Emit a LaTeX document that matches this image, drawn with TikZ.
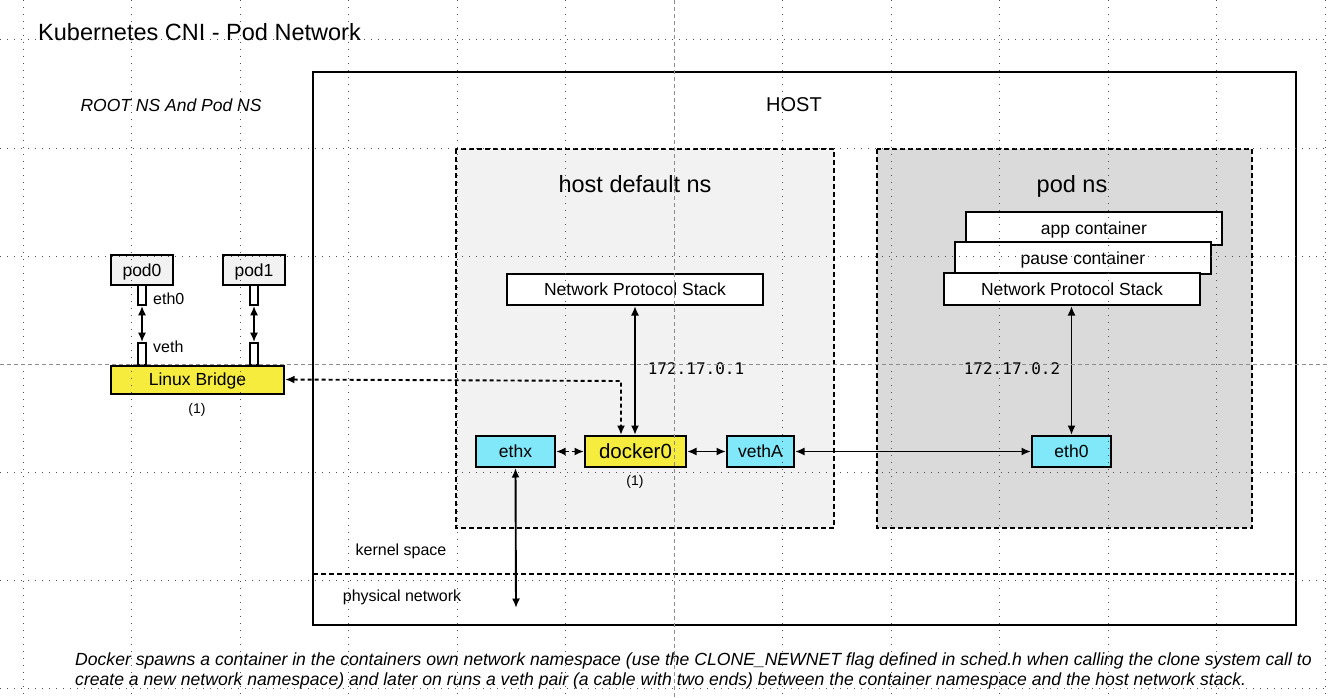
\documentclass[tikz,border=0pt]{standalone}
\usepackage{fontspec}
\setmainfont{Liberation Sans}
\newfontfamily\ipfont{DejaVu Sans Mono}
\usetikzlibrary{arrows.meta}
\definecolor{ybox}{RGB}{245,236,62}
\definecolor{cbox}{RGB}{128,232,248}
\definecolor{nsA}{RGB}{242,242,242}
\definecolor{nsB}{RGB}{218,218,218}
\definecolor{gridc}{RGB}{80,80,80}
\newcommand{\fs}[1]{\fontsize{#1}{#1}\selectfont}
\newcommand{\lnstrut}{\rule[-0.212em]{0pt}{1.117em}}
\tikzset{
  box/.style={draw=black, line width=2pt, rectangle, inner sep=0pt, font=\fs{17.5}, execute at begin node=\lnstrut},
  wbox/.style={box, fill=white},
  ybx/.style={box, fill=ybox},
  cbx/.style={box, fill=cbox},
  port/.style={draw=black, line width=1.6pt, fill=white, rectangle, inner sep=0pt, minimum width=8pt},
  nsbox/.style={draw=black, line width=1.8pt, dash pattern=on 5pt off 3pt},
  conn/.style={line width=1.9pt, {Latex[length=9.5pt,width=8pt]}-{Latex[length=9.5pt,width=8pt]}},
  dconn/.style={conn, dash pattern=on 4pt off 3pt},
  txt/.style={inner sep=0pt, font=\fs{17.5}, execute at begin node=\lnstrut},
  gridl/.style={gridc, line width=1pt, dash pattern=on 1pt off 6pt},
  guide/.style={black!45, line width=0.7pt, dash pattern=on 4pt off 3pt}
}
\begin{document}
\begin{tikzpicture}[x=1pt,y=-1pt]
\useasboundingbox (0,0) rectangle (1330,698);
\fill[white] (0,0) rectangle (1330,698);

% title and labels
\node[txt, anchor=west, font=\fs{23.5}] (title) at (38,32) {Kubernetes CNI - Pod Network};
\node[txt, font=\fs{17.5}\itshape] (rootns) at (171,105) {ROOT NS And Pod NS};

% host box
\draw[line width=2.2pt, fill=white] (313,72) rectangle (1296,625);
\node[txt, font=\fs{20}] (host) at (794,105) {HOST};

% namespaces
\draw[nsbox, fill=nsA] (456,149) rectangle (834,528);
\draw[nsbox, fill=nsB] (877,149) rectangle (1252,528);
\node[txt, font=\fs{23.5}] (hdns) at (635,184) {host default ns};
\node[txt, font=\fs{23.5}] (podns) at (1072,184) {pod ns};

% kernel / physical separator
\draw[line width=1.8pt, dash pattern=on 5pt off 3pt] (313,574) -- (1296,574);
\node[txt, font=\fs{16}] (kern) at (401,550) {kernel space};
\node[txt, font=\fs{16}] (phys) at (402,596) {physical network};

% host default ns contents
\node[wbox, minimum width=256pt, minimum height=31pt] (nps1) at (635,289.5) {Network Protocol Stack};
\node[cbx, minimum width=79pt, minimum height=31pt] (ethx) at (515.5,451.5) {ethx};
\node[ybx, minimum width=101pt, minimum height=31pt, font=\fs{20.5}] (docker0) at (635.5,451.5) {docker0};
\node[cbx, minimum width=67pt, minimum height=31pt] (vethA) at (760.5,451.5) {vethA};
\node[txt, font=\fs{14}] (one2) at (635,481) {(1)};
\node[txt, font=\ipfont\fs{16}] (ip1) at (696,369) {172.17.0.1};

% pod ns contents
\node[wbox, minimum width=256pt, minimum height=33pt] (app) at (1094,228.5) {};
\node[txt] (applbl) at (1094,228) {app container};
\node[wbox, minimum width=256pt, minimum height=32pt] (pause) at (1083,258) {};
\node[txt] (pauselbl) at (1083,258.5) {pause container};
\node[wbox, minimum width=256pt, minimum height=32pt] (nps2) at (1072,289) {Network Protocol Stack};
\node[cbx, minimum width=79pt, minimum height=31pt] (eth0) at (1071.5,451.5) {eth0};
\node[txt, font=\ipfont\fs{16}] (ip2) at (1012,369) {172.17.0.2};

% left: pods and bridge
\node[box, fill=nsA, minimum width=62pt, minimum height=30pt] (pod0) at (142,270) {pod0};
\node[box, fill=nsA, minimum width=62pt, minimum height=30pt] (pod1) at (254,270) {pod1};
\node[ybx, minimum width=173pt, minimum height=28pt] (bridge) at (197.5,379.5) {Linux Bridge};
\node[port, minimum height=20pt] (p0a) at (142,295) {};
\node[port, minimum height=22pt] (p0b) at (142,354) {};
\node[port, minimum height=20pt] (p1a) at (254,295) {};
\node[port, minimum height=22pt] (p1b) at (254,354) {};
\node[txt, anchor=west, font=\fs{16}] (eth0lbl) at (153,299) {eth0};
\node[txt, anchor=west, font=\fs{16}] (vethlbl) at (153,347) {veth};
\node[txt, font=\fs{14}] (one1) at (197,409) {(1)};

% connectors
\coordinate (bend) at (621,381);
\coordinate (phyend) at (516,608);
\draw[conn] (p0a.south) -- (p0b.north);
\draw[conn] (p1a.south) -- (p1b.north);
\draw[dconn] (bridge.east) -- (bend) -- (docker0.north -| bend);
\draw[conn] (nps1.south) -- (nps1.south |- docker0.north);
\draw[dconn] (ethx.east) -- (docker0.west);
\draw[conn] (docker0.east) -- (vethA.west);
\draw[conn] (vethA.east) -- (eth0.west);
\draw[conn] (eth0.north) -- (eth0.north |- nps2.south);
\draw[conn] (ethx.south) -- (phyend);

% footer
\node[txt, anchor=west, font=\fs{17.6}\itshape] (foot1) at (75,659) {Docker spawns a container in the containers own network namespace (use the CLONE\_NEWNET flag defined in sched.h when calling the clone system call to};
\node[txt, anchor=west, font=\fs{17.6}\itshape] (foot2) at (75,679) {create a new network namespace) and later on runs a veth pair (a cable with two ends) between the container namespace and the host network stack.};

% overlay grid
\foreach \gx in {23,131.5,240,348.5,457,565.5,782.5,891,999.5,1108,1216.5,1325}
  \draw[gridl] (\gx,0) -- (\gx,698);
\foreach \gy in {40,148,256,472,580,688}
  \draw[gridl] (0,\gy) -- (1330,\gy);
\draw[guide] (674,0) -- (674,698);
\draw[guide] (0,364) -- (1330,364);
\end{tikzpicture}
\end{document}
